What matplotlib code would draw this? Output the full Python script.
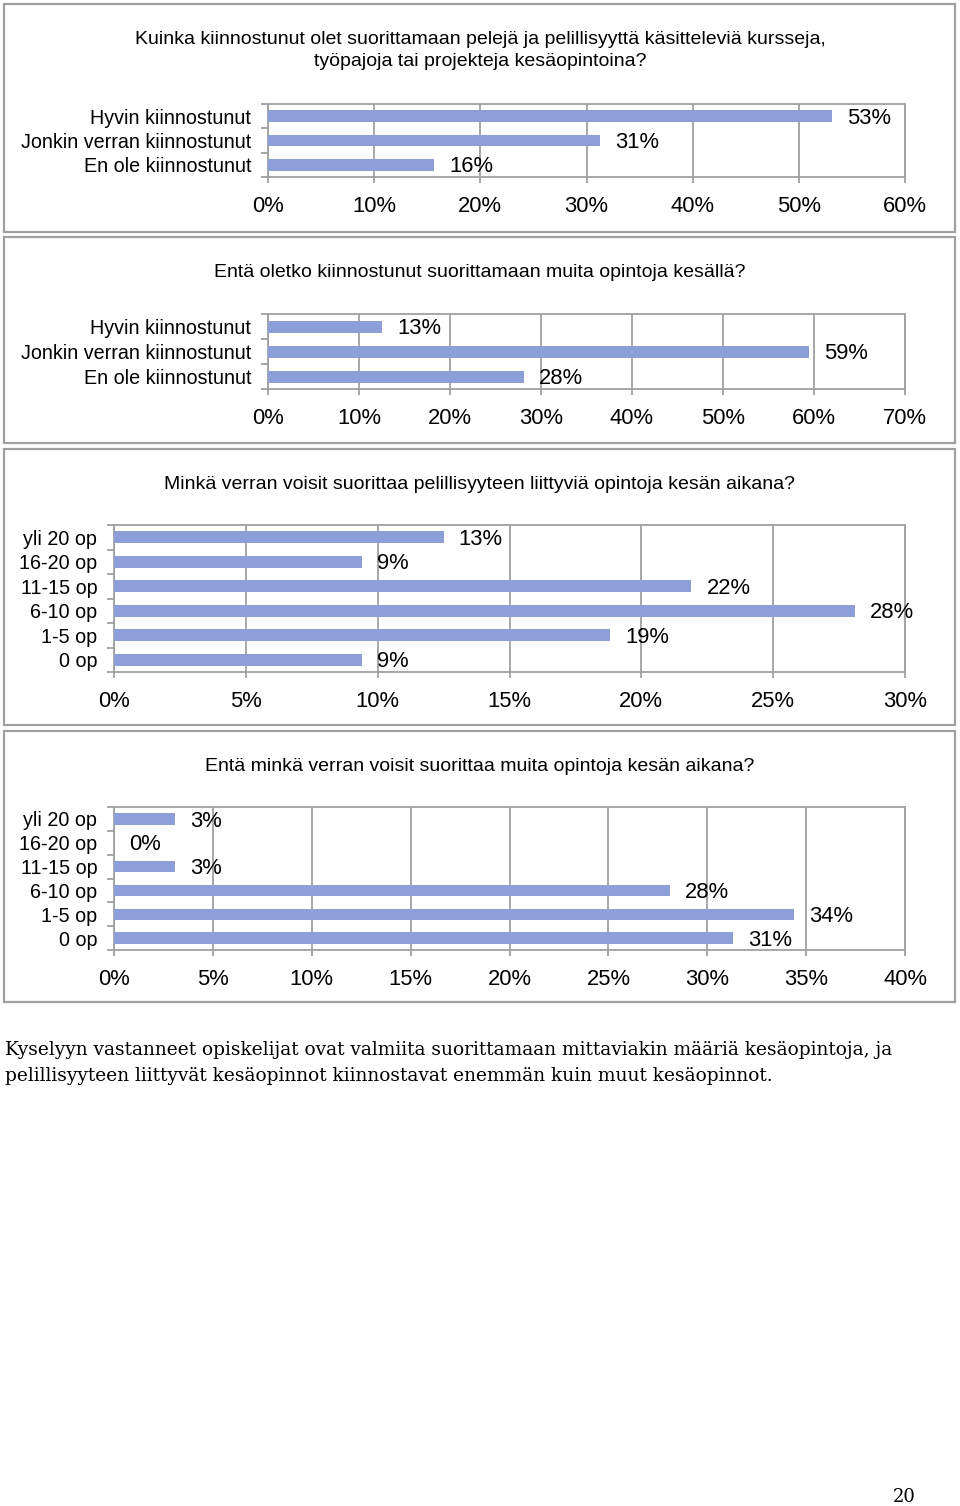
import matplotlib
matplotlib.use("Agg")
import matplotlib.pyplot as plt
from matplotlib.patches import Rectangle
from matplotlib.ticker import FixedLocator

plt.rcParams['font.family'] = ['Liberation Sans', 'DejaVu Sans']

W, H = 960, 1506
bar_col = '#8c9fd9'
grey = '#a0a0a0'

# data (%)
title1 = "Kuinka kiinnostunut olet suorittamaan pelejä ja pelillisyyttä käsitteleviä kursseja,\ntyöpajoja tai projekteja kesäopintoina?"
cats1 = ["Hyvin kiinnostunut", "Jonkin verran kiinnostunut", "En ole kiinnostunut"]
vals1 = [53.1, 31.3, 15.6]
ticks1 = [0, 10, 20, 30, 40, 50, 60]

title2 = "Entä oletko kiinnostunut suorittamaan muita opintoja kesällä?"
cats2 = ["Hyvin kiinnostunut", "Jonkin verran kiinnostunut", "En ole kiinnostunut"]
vals2 = [12.5, 59.4, 28.1]
ticks2 = [0, 10, 20, 30, 40, 50, 60, 70]

title3 = "Minkä verran voisit suorittaa pelillisyyteen liittyviä opintoja kesän aikana?"
cats3 = ["yli 20 op", "16-20 op", "11-15 op", "6-10 op", "1-5 op", "0 op"]
vals3 = [12.5, 9.4, 21.9, 28.1, 18.8, 9.4]
ticks3 = [0, 5, 10, 15, 20, 25, 30]

title4 = "Entä minkä verran voisit suorittaa muita opintoja kesän aikana?"
cats4 = ["yli 20 op", "16-20 op", "11-15 op", "6-10 op", "1-5 op", "0 op"]
vals4 = [3.1, 0.0, 3.1, 28.1, 34.4, 31.3]
ticks4 = [0, 5, 10, 15, 20, 25, 30, 35, 40]

note = ("Kyselyyn vastanneet opiskelijat ovat valmiita suorittamaan mittaviakin määriä kesäopintoja, ja\n"
        "pelillisyyteen liittyvät kesäopinnot kiinnostavat enemmän kuin muut kesäopinnot.")
page_no = "20"

fig = plt.figure(figsize=(W / 100, H / 100), dpi=100)


def box(x0, y0, x1, y1):
    # pikselit (y ylhäältä) -> figure-koordinaatit
    return [x0 / W, 1 - y1 / H, (x1 - x0) / W, (y1 - y0) / H]


def panel(frame, plot, title, title_y, cats, vals, ticks):
    b = box(*frame)
    fig.patches.append(Rectangle((b[0], b[1]), b[2], b[3], transform=fig.transFigure,
                                 fill=False, edgecolor=grey, lw=1.6))
    fig.text(0.5, 1 - title_y / H, title, ha='center', va='center', fontsize=14,
             linespacing=1.4)
    ax = fig.add_axes(box(*plot))
    n = len(cats)
    pos = list(range(n))
    ax.barh(pos, vals, height=0.48, color=bar_col, zorder=3)
    for i, v in zip(pos, vals):
        ax.annotate(str(int(v + 0.5)) + "%", (v, i), xytext=(11, -1.5),
                    textcoords='offset points', ha='left', va='center', fontsize=15.8)
    ax.set_ylim(n - 0.5, -0.5)
    ax.set_xlim(ticks[0], ticks[-1])
    ax.set_yticks(pos)
    ax.set_yticklabels(cats, fontsize=14.2)
    ax.yaxis.set_minor_locator(FixedLocator([i - 0.5 for i in range(n + 1)]))
    ax.tick_params(axis='y', which='major', length=0, pad=12)
    ax.tick_params(axis='y', which='minor', length=5, color=grey, width=1.3)
    ax.set_xticks(ticks)
    ax.set_xticklabels([str(t) + "%" for t in ticks], fontsize=15.8)
    ax.tick_params(axis='x', length=4, color=grey, width=1.3, pad=10)
    ax.grid(axis='x', color=grey, lw=1.3, zorder=0)
    for s in ax.spines.values():
        s.set_color(grey)
        s.set_linewidth(1.3)
    return ax


panel((4, 4, 955, 232), (268, 104, 905, 177), title1, 50.5, cats1, vals1, ticks1)
panel((4, 237, 955, 443), (268, 314, 905, 389), title2, 272.5, cats2, vals2, ticks2)
panel((4, 449, 955, 725), (114, 525, 905, 672), title3, 484.5, cats3, vals3, ticks3)
panel((4, 731, 955, 1002), (114, 807, 905, 950), title4, 766.5, cats4, vals4, ticks4)

fig.text(5 / W, 1 - 1063 / H, note, ha='left', va='center', fontsize=13.4,
         family=['DejaVu Serif'], linespacing=1.6)
fig.text(904 / W, 1 - 1497 / H, page_no, ha='center', va='center', fontsize=13,
         family=['DejaVu Serif'])

fig.savefig("out.png", dpi=100)
